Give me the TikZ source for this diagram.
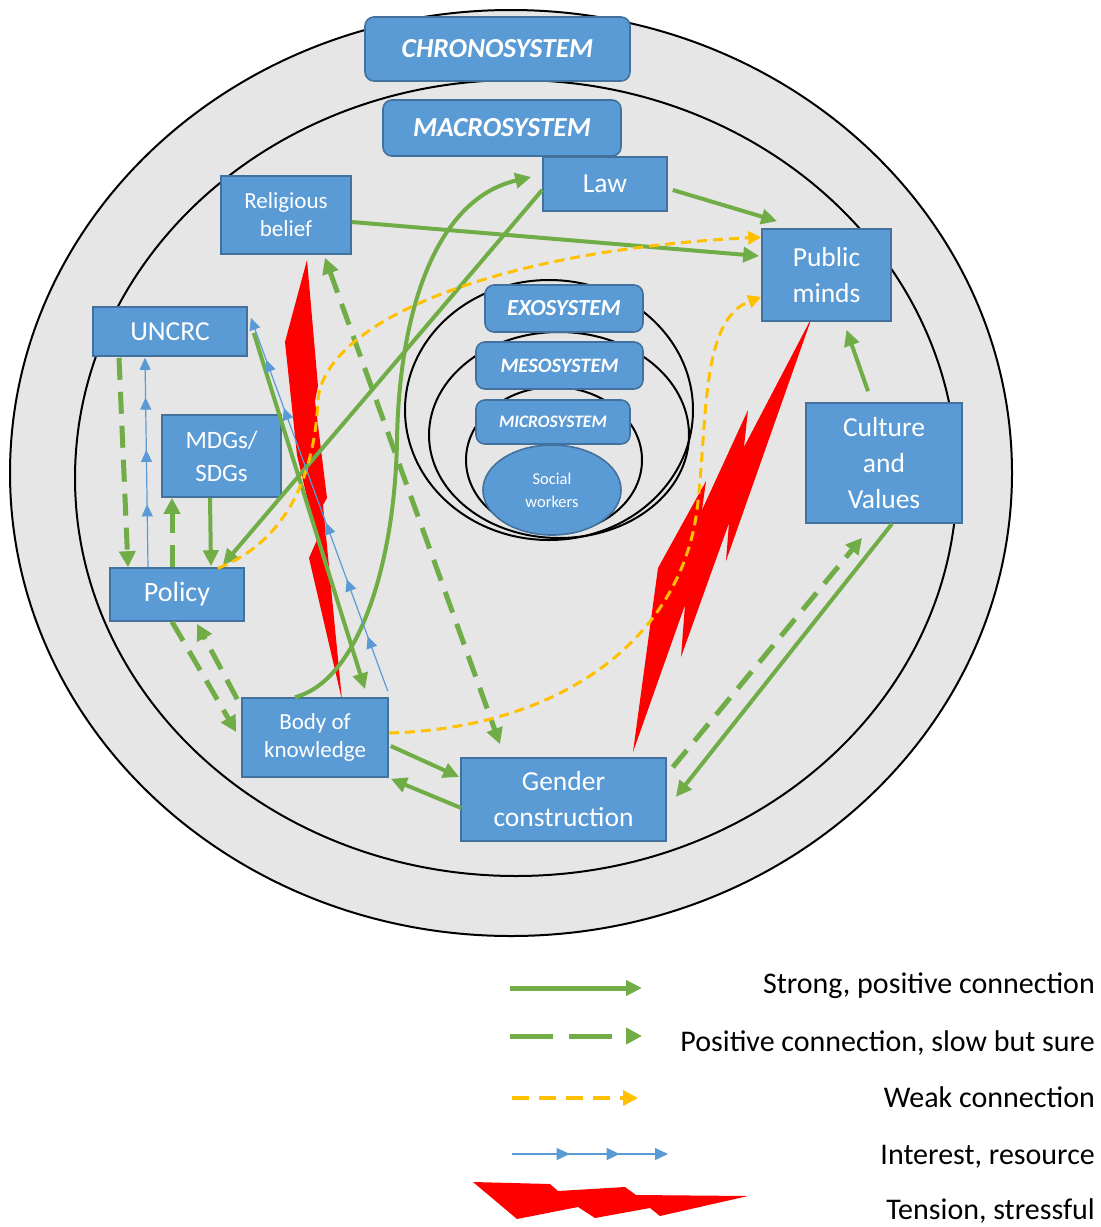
\documentclass[tikz,border=0pt]{standalone}
\usepackage{fontspec}
\setmainfont{Carlito}
\usetikzlibrary{arrows.meta,decorations.markings,calc,shapes.geometric}
\definecolor{boxblue}{HTML}{5B9BD5}
\definecolor{boxedge}{HTML}{41719C}
\definecolor{lgreen}{HTML}{70AD47}
\definecolor{wyellow}{HTML}{FFC000}
\definecolor{ringfill}{HTML}{E6E6E6}
\definecolor{boltred}{HTML}{FF0000}
\newcommand{\fs}[2]{\fontsize{#1}{#2}\selectfont}
\begin{document}
\begin{tikzpicture}[x=1pt,y=-1pt,
  ring/.style={draw=black, line width=2pt},
  sysbox/.style={draw=boxedge, fill=boxblue, line width=1.6pt, text=white, inner sep=0pt, align=center},
  sysround/.style={sysbox, rounded corners=9pt},
  strong/.style={draw=lgreen, line width=4pt, -{Triangle[length=16pt,width=15pt]}},
  slow/.style={draw=lgreen, line width=5pt, dash pattern=on 22pt off 12pt, -{Triangle[length=16pt,width=16pt]}},
  slowboth/.style={slow, {Triangle[length=16pt,width=16pt]}-{Triangle[length=16pt,width=16pt]}},
  weak/.style={draw=wyellow, line width=3pt, dash pattern=on 10pt off 6pt, -{Triangle[length=13pt,width=13pt]}},
  interest/.style={color=boxblue, line width=1.2pt, -{Triangle[length=12pt,width=11pt]}},
  bolt/.style={fill=boltred},
  legtext/.style={anchor=base east, inner sep=0pt, font=\fs{30}{34}, text=black}
]
\useasboundingbox (0,0) rectangle (1101,1227);

% nested system rings
\draw[ring, fill=ringfill] (511,473) ellipse [x radius=501pt, y radius=463pt];
\draw[ring] (516,478) ellipse [x radius=441pt, y radius=398pt];
\draw[ring] (549,410) ellipse [x radius=144pt, y radius=130pt];
\draw[ring] (559,435) ellipse [x radius=130pt, y radius=103pt];
\draw[ring] (554,460) ellipse [x radius=88pt, y radius=73pt];

% tension bolts
\fill[bolt] (307,260) -- (318,386) -- (315,401) -- (327,498) -- (323,505) -- (342,700)
  -- (309,558) -- (317,540) -- (297,455) -- (285,342) -- cycle;
\fill[bolt] (812,317) -- (726,561) -- (729,523) -- (681,657) -- (685,605) -- (633,752)
  -- (658,568) -- (706,481) -- (702,510) -- (748,410) -- (744,447) -- cycle;

% system labels
\node[sysround, minimum width=265pt, minimum height=64pt, font=\fs{27.5}{32}\bfseries\itshape] (chrono) at (497.5,49) {CHRONOSYSTEM};
\node[sysround, minimum width=238pt, minimum height=56pt, font=\fs{27.5}{32}\bfseries\itshape] (macro) at (502,128) {MACROSYSTEM};
\node[sysround, minimum width=158pt, minimum height=47pt, font=\fs{23}{27}\bfseries\itshape] (exo) at (564,308.5) {EXOSYSTEM};
\node[sysround, minimum width=167pt, minimum height=47pt, font=\fs{20.5}{24}\bfseries\itshape] (meso) at (559.5,365.5) {MESOSYSTEM};
\node[sysround, minimum width=154pt, minimum height=44pt, font=\fs{17.5}{20}\bfseries\itshape] (micro) at (553,422) {MICROSYSTEM};
\node[sysbox, ellipse, minimum width=138pt, minimum height=90pt, font=\fs{16.5}{23}] (social) at (552,490) {Social\\workers};

% factor boxes
\node[sysbox, minimum width=124pt, minimum height=54pt, font=\fs{27.5}{32}] (law) at (605,184) {Law};
\node[sysbox, minimum width=130pt, minimum height=78pt, font=\fs{23}{28}] (rel) at (286,215) {Religious\\belief};
\node[sysbox, minimum width=154pt, minimum height=49pt, font=\fs{27.5}{32}] (uncrc) at (170,331.5) {UNCRC};
\node[sysbox, minimum width=119pt, minimum height=82pt, font=\fs{25}{33}] (mdgs) at (221.5,456) {MDGs/\\SDGs};
\node[sysbox, minimum width=134pt, minimum height=53pt, font=\fs{28}{32}] (policy) at (177,594.5) {Policy};
\node[sysbox, minimum width=146pt, minimum height=79pt, font=\fs{23}{28}] (bok) at (315,737.5) {Body of\\knowledge};
\node[sysbox, minimum width=205pt, minimum height=83pt, font=\fs{27.5}{36}] (gender) at (563.5,799.5) {Gender\\construction};
\node[sysbox, minimum width=129pt, minimum height=92pt, font=\fs{27.5}{36}] (public) at (826.5,275) {Public\\minds};
\node[sysbox, minimum width=156pt, minimum height=120pt, font=\fs{27.5}{36}] (culture) at (884,463) {Culture\\and\\Values};

% strong, positive connections
\draw[strong] ($(law.east)+(5,6)$) -- ($(public.north west)+(16,-7)$);
\draw[strong] ($(rel.east)+(0,7)$) -- ($(public.west)+(-2,-19)$);
\draw[strong] ($(law.west)+(0,6)$) -- ($(policy.north east)+(-22,-2)$);
\draw[strong] ($(bok.north)+(-20,0)$) .. controls (360,680) and (395,560) .. (397,440)
  .. controls (399,320) and (432,200) .. ($(law.west)+(-11,-7)$);
\draw[strong] ($(uncrc.east)+(6,1.5)$) -- ($(bok.north)+(50,-8)$);
\draw[strong] ($(mdgs.south)+(-11.5,0)$) -- ($(policy.north)+(34,-1)$);
\draw[strong] ($(bok.east)+(2,8.5)$) -- ($(gender.west)+(-1,-22.5)$);
\draw[strong] ($(gender.west)+(1,8.5)$) -- ($(bok.south east)+(2,1)$);
\draw[strong] ($(culture.south)+(8,0)$) -- ($(gender.east)+(9,-2.5)$);
\draw[strong] ($(culture.north)+(-16,-11)$) -- ($(public.south)+(20,8)$);

% positive, slow but sure connections
\draw[slow] ($(uncrc.south)+(-51,1)$) -- ($(policy.north)+(-49,0)$);
\draw[slow] ($(policy.north)+(-5,0)$) -- ($(mdgs.south)+(-49.5,0)$);
\draw[slow] ($(policy.south)+(-5,0)$) -- ($(bok.west)+(-5,-5.5)$);
\draw[slow] ($(bok.north west)+(-4,2)$) -- ($(policy.south)+(20,2)$);
\draw[slowboth] ($(rel.south)+(39,3)$) -- ($(gender.north)+(-63.5,-13)$);
\draw[slow] ($(gender.north east)+(6,10)$) -- ($(culture.south)+(-22,14)$);

% weak connections
\draw[weak] ($(policy.north east)+(-27,1)$) .. controls (290,540) and (315,470) .. (318,400)
  .. controls (325,320) and (500,250) .. ($(public.north west)+(0,9)$);
\draw[weak] ($(bok.east)+(0,-4.5)$) .. controls (560,728) and (680,640) .. (697,510)
  .. controls (708,420) and (700,320) .. ($(public.west)+(0,22)$);

% interest, resource flows
\draw[interest, postaction={decorate}, decoration={markings,
    mark=at position 0.147 with {\arrow{Triangle[length=12pt,width=11pt]}},
    mark=at position 0.30 with {\arrow{Triangle[length=12pt,width=11pt]}},
    mark=at position 0.452 with {\arrow{Triangle[length=12pt,width=11pt]}},
    mark=at position 0.759 with {\arrow{Triangle[length=12pt,width=11pt]}},
    mark=at position 0.888 with {\arrow{Triangle[length=12pt,width=11pt]}}}]
  ($(bok.north east)+(-1,-6)$) -- ($(uncrc.east)+(3,-13.5)$);
\draw[interest, postaction={decorate}, decoration={markings,
    mark=at position 0.30 with {\arrow{Triangle[length=12pt,width=11pt]}},
    mark=at position 0.56 with {\arrow{Triangle[length=12pt,width=11pt]}},
    mark=at position 0.81 with {\arrow{Triangle[length=12pt,width=11pt]}}}]
  ($(policy.north)+(-29,0)$) -- ($(uncrc.south)+(-25,1)$);

% legend
\coordinate (l1a) at (510,988);  \coordinate (l1b) at (642,988);
\coordinate (l2a) at (510,1036); \coordinate (l2b) at (642,1036);
\coordinate (l3a) at (512,1098); \coordinate (l3b) at (638,1098);
\coordinate (l4a) at (512,1154); \coordinate (l4b) at (668,1154);
\draw[strong, line width=5pt] (l1a) -- (l1b);
\draw[slow, dash pattern=on 43pt off 16pt] (l2a) -- (l2b);
\draw[weak, line width=3.5pt, dash pattern=on 17pt off 10pt, -{Triangle[length=15pt,width=15pt]}] (l3a) -- (l3b);
\draw[interest, postaction={decorate}, decoration={markings,
    mark=at position 0.37 with {\arrow{Triangle[length=13pt,width=12pt]}},
    mark=at position 0.69 with {\arrow{Triangle[length=13pt,width=12pt]}}},
    -{Triangle[length=13pt,width=12pt]}] (l4a) -- (l4b);
\fill[bolt] (473,1182) -- (550,1184) -- (558,1191) -- (625,1187) -- (636,1195) -- (748,1196)
  -- (660,1216) -- (650,1208) -- (595,1218) -- (578,1207) -- (517,1219) -- cycle;

\node[legtext] (t1) at (1095,993) {Strong, positive connection};
\node[legtext] (t2) at (1095,1051) {Positive connection, slow but sure};
\node[legtext] (t3) at (1095,1107) {Weak connection};
\node[legtext] (t4) at (1095,1164) {Interest, resource};
\node[legtext] (t5) at (1095,1219) {Tension, stressful};
\end{tikzpicture}
\end{document}
